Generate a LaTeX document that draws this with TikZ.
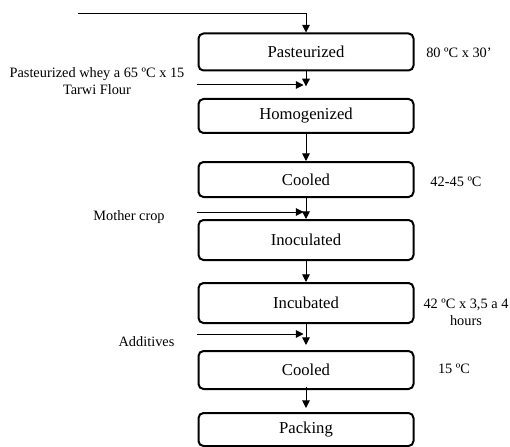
\documentclass[tikz,border=0pt]{standalone}
\usepackage{fontspec}
\setmainfont{Liberation Serif}
\usetikzlibrary{arrows.meta}

\begin{document}
\begin{tikzpicture}[x=0.6pt, y=-0.6pt,
        stage/.style={rectangle, draw, line width=1.2pt, rounded corners=3pt, minimum width=129pt, font=\fontsize{10}{12}\selectfont},
        note/.style={align=center, inner sep=0pt, font=\fontsize{8.6}{10.2}\selectfont},
        flow/.style={-{Triangle[length=4.6pt, width=4.6pt]}, line width=0.6pt}]
        \useasboundingbox (0,0) rectangle (510,447);

        % Define stages
        \node[stage, minimum height=22.2pt] (past) at (306, 52) {Pasteurized};
        \node[stage, minimum height=20.4pt] (homo) at (306, 116) {Homogenized};
        \node[stage, minimum height=21pt] (cool1) at (306, 179.5) {Cooled};
        \node[stage, minimum height=24pt] (inoc) at (306, 240) {Inoculated};
        \node[stage, minimum height=24pt] (incub) at (306, 303) {Incubated};
        \node[stage, minimum height=22.8pt] (cool2) at (306, 370) {Cooled};
        \node[stage, minimum height=19.8pt] (pack) at (306, 429.5) {Packing};

        % Define conditions and inputs
        \node[note] (pastnote) at (459, 53) {80 ºC x 30’};
        \node[note] (wheynote) at (97, 81) {Pasteurized whey a 65 ºC x 15\\Tarwi Flour};
        \node[note] (coolnote) at (456, 182) {42-45 ºC};
        \node[note] (mothernote) at (129, 217) {Mother crop};
        \node[note] (incubnote) at (466, 312) {42 ºC x 3,5 a 4\\hours};
        \node[note] (addnote) at (146.5, 342) {Additives};
        \node[note] (cool2note) at (454, 369) {15 ºC};

        \coordinate (feed) at (78, 14);
        \coordinate (wheyin) at (197, 85);
        \coordinate (motherin) at (197, 212);
        \coordinate (addin) at (197, 334);

        % Draw flow
        \draw[flow] (feed) -| (past.north);
        \draw[flow, shorten >=7pt] (past.south) -- (homo.north);
        \draw[flow] (homo.south) -- (cool1.north);
        \draw[flow] (cool1.south) -- (inoc.north);
        \draw[flow] (inoc.south) -- (incub.north);
        \draw[flow, shorten >=3pt] (incub.south) -- (cool2.north);
        \draw[flow, shorten <=-2pt, shorten >=2.4pt] (cool2.south) -- (pack.north);

        % Draw inputs
        \draw[flow, shorten >=1.5pt] (wheyin) -- (wheyin -| past.south);
        \draw[flow, shorten >=1.5pt] (motherin) -- (motherin -| cool1.south);
        \draw[flow, shorten >=1.5pt] (addin) -- (addin -| incub.south);
    \end{tikzpicture}
\end{document}
